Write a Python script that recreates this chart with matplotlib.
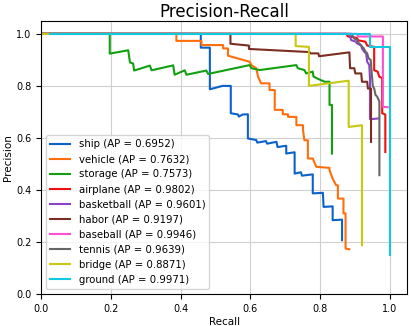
import numpy as np
import matplotlib
matplotlib.use('Agg')
import matplotlib.pyplot as plt

# recall / precision vertices
ship_r = [0.0, 0.458, 0.458, 0.484, 0.484, 0.52, 0.522, 0.544, 0.544, 0.565, 0.567, 0.578, 0.593, 0.593,
          0.617, 0.62, 0.645, 0.648, 0.675, 0.678, 0.703, 0.703, 0.727, 0.727, 0.745, 0.748, 0.779, 0.779,
          0.808, 0.810, 0.836, 0.836, 0.863, 0.863]
ship_p = [1.0, 1.0, 0.947, 0.947, 0.787, 0.80, 0.80, 0.80, 0.695, 0.69, 0.682, 0.69, 0.691, 0.598,
          0.592, 0.582, 0.588, 0.578, 0.585, 0.565, 0.57, 0.54, 0.545, 0.463, 0.468, 0.455, 0.46, 0.387,
          0.389, 0.335, 0.337, 0.284, 0.286, 0.207]

vehicle_r = [0.0, 0.388, 0.388, 0.46, 0.46, 0.522, 0.522, 0.536, 0.536, 0.598, 0.603, 0.617, 0.622, 0.631,
             0.655, 0.655, 0.670, 0.670, 0.693, 0.693, 0.708, 0.708, 0.732, 0.732, 0.751, 0.751, 0.755,
             0.765, 0.765, 0.779, 0.789, 0.827, 0.827, 0.836, 0.846, 0.851, 0.851, 0.867, 0.867, 0.873,
             0.873, 0.884]
vehicle_p = [1.0, 1.0, 0.973, 0.973, 0.957, 0.957, 0.944, 0.944, 0.916, 0.893, 0.880, 0.868, 0.836, 0.81,
             0.81, 0.784, 0.784, 0.708, 0.708, 0.691, 0.691, 0.681, 0.681, 0.649, 0.649, 0.63, 0.591,
             0.591, 0.521, 0.521, 0.489, 0.485, 0.476, 0.444, 0.418, 0.418, 0.367, 0.367, 0.31, 0.31,
             0.175, 0.172]

storage_r = [0.0, 0.197, 0.197, 0.25, 0.255, 0.264, 0.267, 0.312, 0.317, 0.379, 0.383, 0.412, 0.417, 0.474,
             0.479, 0.598, 0.603, 0.627, 0.732, 0.736, 0.755, 0.760, 0.779, 0.781, 0.791, 0.813, 0.827,
             0.827, 0.834, 0.834]
storage_p = [1.0, 1.0, 0.924, 0.937, 0.89, 0.886, 0.859, 0.878, 0.86, 0.879, 0.843, 0.86, 0.843, 0.859,
             0.846, 0.880, 0.868, 0.861, 0.880, 0.868, 0.861, 0.848, 0.855, 0.836, 0.829, 0.816, 0.816,
             0.727, 0.727, 0.54]

airplane_r = [0.0, 0.875, 0.88, 0.905, 0.91, 0.93, 0.935, 0.955, 0.955, 0.965, 0.97, 0.978, 0.978, 0.987,
              0.987]
airplane_p = [1.0, 1.0, 0.99, 0.985, 0.975, 0.97, 0.955, 0.95, 0.86, 0.855, 0.835, 0.83, 0.695, 0.69,
              0.546]

basketball_r = [0.0, 0.884, 0.889, 0.903, 0.905, 0.918, 0.92, 0.927, 0.932, 0.935, 0.941, 0.943, 0.943,
                0.968]
basketball_p = [1.0, 1.0, 0.976, 0.970, 0.964, 0.955, 0.944, 0.93, 0.925, 0.893, 0.88, 0.83, 0.672,
                0.675]

habor_r = [0.0, 0.543, 0.543, 0.596, 0.596, 0.77, 0.772, 0.795, 0.797, 0.884, 0.886, 0.898, 0.901, 0.918,
           0.920, 0.935, 0.937, 0.946, 0.946]
habor_p = [1.0, 1.0, 0.962, 0.955, 0.942, 0.93, 0.925, 0.925, 0.914, 0.929, 0.868, 0.868, 0.848, 0.848,
           0.816, 0.816, 0.79, 0.79, 0.585]

baseball_r = [0.0, 0.905, 0.91, 0.98, 0.98, 0.994]
baseball_p = [1.0, 1.0, 0.99, 0.99, 0.72, 0.718]

tennis_r = [0.0, 0.89, 0.898, 0.905, 0.911, 0.915, 0.920, 0.925, 0.93, 0.935, 0.939, 0.945, 0.951, 0.955,
            0.959, 0.963, 0.968, 0.97, 0.97]
tennis_p = [1.0, 1.0, 0.982, 0.978, 0.964, 0.96, 0.951, 0.945, 0.932, 0.925, 0.906, 0.90, 0.80, 0.79,
            0.765, 0.76, 0.746, 0.74, 0.457]

bridge_r = [0.0, 0.730, 0.730, 0.768, 0.768, 0.882, 0.882, 0.920, 0.920]
bridge_p = [1.0, 1.0, 0.953, 0.95, 0.80, 0.82, 0.642, 0.649, 0.188]

ground_r = [0.027, 0.942, 0.942, 0.999, 0.999]
ground_p = [1.0, 1.0, 0.951, 0.951, 0.15]

names = ['ship', 'vehicle', 'storage', 'airplane', 'basketball', 'habor', 'baseball', 'tennis', 'bridge', 'ground']
aps = [0.6952, 0.7632, 0.7573, 0.9802, 0.9601, 0.9197, 0.9946, 0.9639, 0.8871, 0.9971]
recalls = [ship_r, vehicle_r, storage_r, airplane_r, basketball_r, habor_r, baseball_r, tennis_r, bridge_r, ground_r]
precisions = [ship_p, vehicle_p, storage_p, airplane_p, basketball_p, habor_p, baseball_p, tennis_p, bridge_p, ground_p]
colors = ['#0a62c8', '#ff6e0a', '#10a010', '#f01010', '#8a44cc', '#7a2e22', '#ff4fd0', '#666666', '#c8c810', '#10c8e0']

fig = plt.figure(figsize=(4.11, 3.26), dpi=100)
ax = fig.add_axes([0.0998, 0.098, 0.8912, 0.838])
for r, p, n, a, c in zip(recalls, precisions, names, aps, colors):
    ax.plot(r, p, color=c, lw=1.5, label='%s (AP = %.4f)' % (n, a))

ax.set_xlim(0, 1.05)
ax.set_ylim(0, 1.05)
ax.set_xticks(np.arange(0, 1.01, 0.2))
ax.set_yticks(np.arange(0, 1.01, 0.2))
ax.grid(True, color='#d0d0d0', lw=0.8)
ax.tick_params(labelsize=7)
ax.set_xlabel('Recall', fontsize=7.5, labelpad=2)
ax.set_ylabel('Precision', fontsize=7.5, labelpad=2)
ax.set_title('Precision-Recall', fontsize=12, pad=3)
ax.legend(loc='lower left', fontsize=7.3)

fig.savefig('out.png', dpi=100)
